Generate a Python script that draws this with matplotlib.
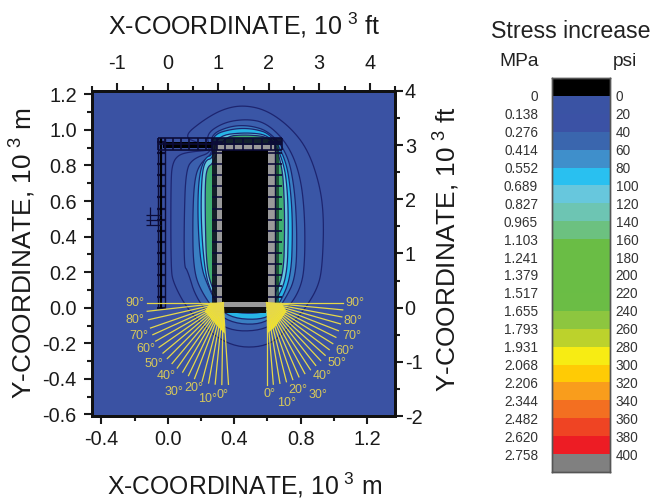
import matplotlib
matplotlib.use('Agg')
import matplotlib.pyplot as plt
import numpy as np

plt.rcParams['font.family'] = ['Liberation Sans', 'DejaVu Sans']
plt.rcParams['mathtext.default'] = 'regular'
plt.rcParams['axes.unicode_minus'] = False

# contour outlines, 10^3 m (outer to inner)
c1_x = [.092, .213, .333, .454, .594, .735, .845, .918, .94, .93, .905, .835, .735, .594, .353, .133, .032, .018, .018, .028, .062, .133, .273, .193]
c1_y = [.962, 1.055, 1.118, 1.14, 1.112, 1.018, .887, .681, .493, .231, .118, .006, -.107, -.225, -.216, -.032, .137, .231, .718, .812, .859, .877, .887, .924]
c2_x = [.223, .333, .474, .594, .72, .795, .825, .825, .795, .715, .594, .333, .173, .118, .098, .098, .108, .153, .273]
c2_y = [.971, 1.042, 1.062, 1.04, .924, .756, .531, .231, .099, -.013, -.13, -.13, .043, .212, .231, .493, .774, .840, .877]
c3_x = [.253, .373, .494, .614, .72, .762, .778, .772, .705, .594, .333, .193, .153, .149, .159, .193, .273]
c3_y = [.971, 1.022, 1.026, .990, .868, .681, .437, .174, .043, -.1, -.082, .099, .231, .493, .718, .812, .868]
c4_x = [.263, .394, .514, .625, .712, .742, .752, .742, .675, .594, .333, .243, .199, .179, .185, .223, .273]
c4_y = [.971, 1.008, 1.008, .975, .831, .643, .437, .174, .024, -.072, -.054, .118, .231, .493, .737, .846, .859]
c5_x = [.293, .474, .625, .70, .722, .726, .718, .655, .594, .333, .253, .219, .199, .203, .225, .273]
c5_y = [.968, .987, .968, .812, .643, .437, .174, .043, -.035, -.025, .099, .231, .493, .737, .831, .840]
c6_x = [.333, .474, .635, .688, .70, .704, .696, .625, .594, .333, .263, .233, .225, .225, .239, .273]
c6_y = [.962, .975, .956, .793, .643, .437, .174, .043, -.016, -.012, .118, .231, .493, .718, .793, .812]
contours = [(c1_x, c1_y, '#3a56a6'), (c2_x, c2_y, '#3b60ae'), (c3_x, c3_y, '#3a7fc2'),
            (c4_x, c4_y, '#27b5e6'), (c5_x, c5_y, '#63c8dc'), (c6_x, c6_y, '#3fae72')]

# mesh stations
col_y = [0.0, .062, .124, .186, .248, .31, .372, .434, .496, .558, .62, .682, .744, .806, .868, .93]
arm_x = [-.06, -.018, .03, .08, .13, .18, .23, .265]
top_x = [.293, .345, .4, .455, .51, .565, .62, .645, .685]

# fans
fan_angle = [0, 5, 10, 15, 20, 25, 30, 35, 40, 45, 50, 55, 60, 65, 70, 75, 80, 85, 90]
left_angle = [-4, 1, 6, 11, 16, 22, 27, 32, 37, 42, 47, 52, 57, 62, 67, 72, 78, 84, 90]
fan_len = 0.46
left_lab = ['90°', '80°', '70°', '60°', '50°', '40°', '30°', '20°', '10°', '0°']
left_lab_x = [-.199, -.199, -.173, -.133, -.083, -.012, .038, .158, .237, .327]
left_lab_y = [.025, -.069, -.159, -.232, -.318, -.384, -.472, -.453, -.515, -.491]
right_lab = ['0°', '10°', '20°', '30°', '40°', '50°', '60°', '70°', '80°', '90°']
right_lab_x = [.610, .715, .785, .902, .932, 1.016, 1.066, 1.107, 1.116, 1.127]
right_lab_y = [-.485, -.534, -.463, -.491, -.384, -.313, -.242, -.157, -.073, .025]

# colour scale
mpa = ['0', '0.138', '0.276', '0.414', '0.552', '0.689', '0.827', '0.965', '1.103', '1.241', '1.379',
       '1.517', '1.655', '1.793', '1.931', '2.068', '2.206', '2.344', '2.482', '2.620', '2.758']
psi = ['0', '20', '40', '60', '80', '100', '120', '140', '160', '180', '200',
       '220', '240', '260', '280', '300', '320', '340', '360', '380', '400']
cell_colors = ['#000000', '#3a53a4', '#3b52a5', '#3a66ae', '#3f8fcb', '#29c0f0', '#67c7dd', '#6dc5b3',
               '#6cc180', '#6abd45', '#6abd45', '#6abd45', '#6bbd45', '#8dc63f', '#bcd22c', '#f7ec13',
               '#ffcb05', '#f99d1c', '#f36f21', '#ef4423', '#ed1c24', '#808080']

NAVY = '#1d2570'
DARK = '#0c0c38'
YEL = '#e6d84a'


def smooth(x, y, n=3):
    # corner cutting so the read-off outlines look like contours
    p = np.column_stack([x, y])
    for _ in range(n):
        q = np.roll(p, -1, axis=0)
        p = np.column_stack([.75 * p + .25 * q, .25 * p + .75 * q]).reshape(-1, 2)
    return p[:, 0], p[:, 1]


fig = plt.figure(figsize=(6.55, 5), dpi=100)
ax = fig.add_axes([92 / 655, 84 / 500, 303 / 655, 325 / 500])
ax.set_facecolor('#3a52a3')
ax.set_xlim(-.457, 1.368)
ax.set_ylim(-.609, 1.219)

for cx, cy, col in contours:
    sx, sy = smooth(cx, cy)
    ax.fill(sx, sy, facecolor=col, edgecolor=NAVY, lw=.9, zorder=2)

# core and mesh
ax.fill_between([.293, .645], .004, .915, color='#9a9a9a', lw=0, zorder=3)
ax.fill_between([.329, .602], .032, .887, color='black', lw=0, zorder=4)
ax.fill_between([.333, .594], -.03, .004, color='#111111', lw=0, zorder=2.5)
ax.fill_between([.265, .685], .915, .955, color='#0a0a20', alpha=.85, lw=0, zorder=3)
ax.fill_between([-.03, .265], .896, .93, color='black', lw=0, zorder=3)
ax.fill_between([.263, .293], .004, .915, color='#101020', alpha=.9, lw=0, zorder=3)
ax.fill_between([.645, .672], .004, .915, color='#10301f', alpha=.7, lw=0, zorder=3)

ax.hlines(col_y, -.065, -.012, color=DARK, lw=1.6, zorder=5)
ax.vlines([-.06, -.018], 0, .955, color=DARK, lw=1, zorder=5)
ax.vlines([-.04], 0, .955, color='black', lw=1.6, zorder=5)
ax.hlines([.887, .92, .955], -.06, .685, color=DARK, lw=1.2, zorder=5)
ax.vlines(arm_x, .887, .955, color=DARK, lw=1.2, zorder=5)
ax.vlines(top_x, .887, .955, color=DARK, lw=1.2, zorder=5)
ax.hlines(col_y, .263, .329, color=DARK, lw=1.2, zorder=5)
ax.hlines(col_y, .602, .685, color=DARK, lw=1.2, zorder=5)
ax.vlines([.645], 0, .955, color=DARK, lw=1, zorder=5)
ax.hlines([.521, .493, .465], -.129, -.04, color=DARK, lw=.9, zorder=5)
ax.vlines([-.108, -.058], .465, .568, color=DARK, lw=.9, zorder=5)

# fans
ax.fill([.253, .333, .343, .303, .223], [.028, .028, -.146, -.108, -.022], color='#f7ec13', lw=0, zorder=6)
ax.fill([.595, .685, .715, .645, .597], [.028, .028, -.022, -.108, -.146], color='#f7ec13', lw=0, zorder=6)
for a in left_angle:
    t = np.radians(a)
    ax.plot([.333, .333 - fan_len * np.sin(t)], [.028, .028 - fan_len * np.cos(t)], color=YEL, lw=.9, zorder=7)
for a in fan_angle:
    t = np.radians(a)
    ax.plot([.595, .595 + fan_len * np.sin(t)], [.028, .028 - fan_len * np.cos(t)], color=YEL, lw=.9, zorder=7)
for s, x, y in zip(left_lab + right_lab, left_lab_x + right_lab_x, left_lab_y + right_lab_y):
    ax.text(x, y, s, color='#d8c95a', fontsize=9, ha='center', va='center', zorder=8)

# axes
ax.set_xticks([-.4, 0, .4, .8, 1.2])
ax.set_xticklabels(['-0.4', '0.0', '0.4', '0.8', '1.2'])
ax.set_xticks([-.2, .2, .6, 1.0], minor=True)
ax.set_yticks(np.arange(-.6, 1.21, .2))
ax.set_yticklabels(['-0.6', '-0.4', '-0.2', '0.0', '0.2', '0.4', '0.6', '0.8', '1.0', '1.2'])
ax.set_yticks(np.arange(-.5, 1.2, .2), minor=True)

top = ax.twiny()
top.set_xlim(-1.5, 4.5)
top.set_xticks([-1, 0, 1, 2, 3, 4])
top.set_xticks([-1.5, -.5, .5, 1.5, 2.5, 3.5, 4.5], minor=True)

right = ax.twinx()
right.set_ylim(-2, 4)
right.set_yticks([-2, -1, 0, 1, 2, 3, 4])
right.set_yticks([-1.5, -.5, .5, 1.5, 2.5, 3.5], minor=True)

for a in (ax, top, right):
    a.tick_params(which='major', length=6, width=1.5, labelsize=14.3, direction='out', colors='#1a1a1a')
    a.tick_params(which='minor', length=3.5, width=1.5, direction='out', color='#1a1a1a')
    for sp in a.spines.values():
        sp.set_linewidth(2)
        sp.set_color('#111111')
ax.tick_params(axis='y', which='major', pad=5)
ax.tick_params(axis='x', which='major', pad=4)
top.tick_params(axis='x', which='major', pad=7)
right.tick_params(axis='y', which='major', pad=1)

fig.text(244 / 655, 475 / 500, 'X-COORDINATE, 10$^{\\ 3}$ ft', fontsize=18, ha='center', va='center', color='#1a1a1a')
fig.text(245 / 655, 15 / 500, 'X-COORDINATE, 10$^{\\ 3}$ m', fontsize=17.8, ha='center', va='center', color='#1a1a1a')
fig.text(23 / 655, 247 / 500, 'Y-COORDINATE, 10$^{\\ 3}$ m', fontsize=18.9, rotation=90, ha='center', va='center', color='#1a1a1a')
fig.text(447 / 655, 251 / 500, 'Y-COORDINATE, 10$^{\\ 3}$ ft', fontsize=18.9, rotation=90, ha='center', va='center', color='#1a1a1a')

# colour scale
cb = fig.add_axes([552 / 655, 28 / 500, 58 / 655, 394 / 500])
cb.barh(np.arange(len(cell_colors)), 1, height=1.0, color=cell_colors, lw=0)
cb.set_xlim(0, 1)
cb.set_ylim(len(cell_colors) - .5, -.5)
cb.set_xticks([])
ticks = np.arange(len(mpa)) + .5
cb.set_yticks(ticks)
cb.set_yticklabels(mpa)
cb.tick_params(length=0, labelsize=9.8, pad=10, colors='#333333')
cb_r = cb.twinx()
cb_r.set_ylim(cb.get_ylim())
cb_r.set_yticks(ticks)
cb_r.set_yticklabels(psi)
cb_r.tick_params(length=0, labelsize=9.8, pad=4, colors='#333333')
for a in (cb, cb_r):
    for sp in a.spines.values():
        sp.set_linewidth(1)
        sp.set_color('#555555')

fig.text(571 / 655, 469 / 500, 'Stress increase', fontsize=16.7, ha='center', va='center', color='#222222')
fig.text(519 / 655, 438 / 500, 'MPa', fontsize=13.8, ha='center', va='center', color='#222222')
fig.text(625 / 655, 438 / 500, 'psi', fontsize=13.8, ha='center', va='center', color='#222222')

fig.savefig('out.png', dpi=100)
